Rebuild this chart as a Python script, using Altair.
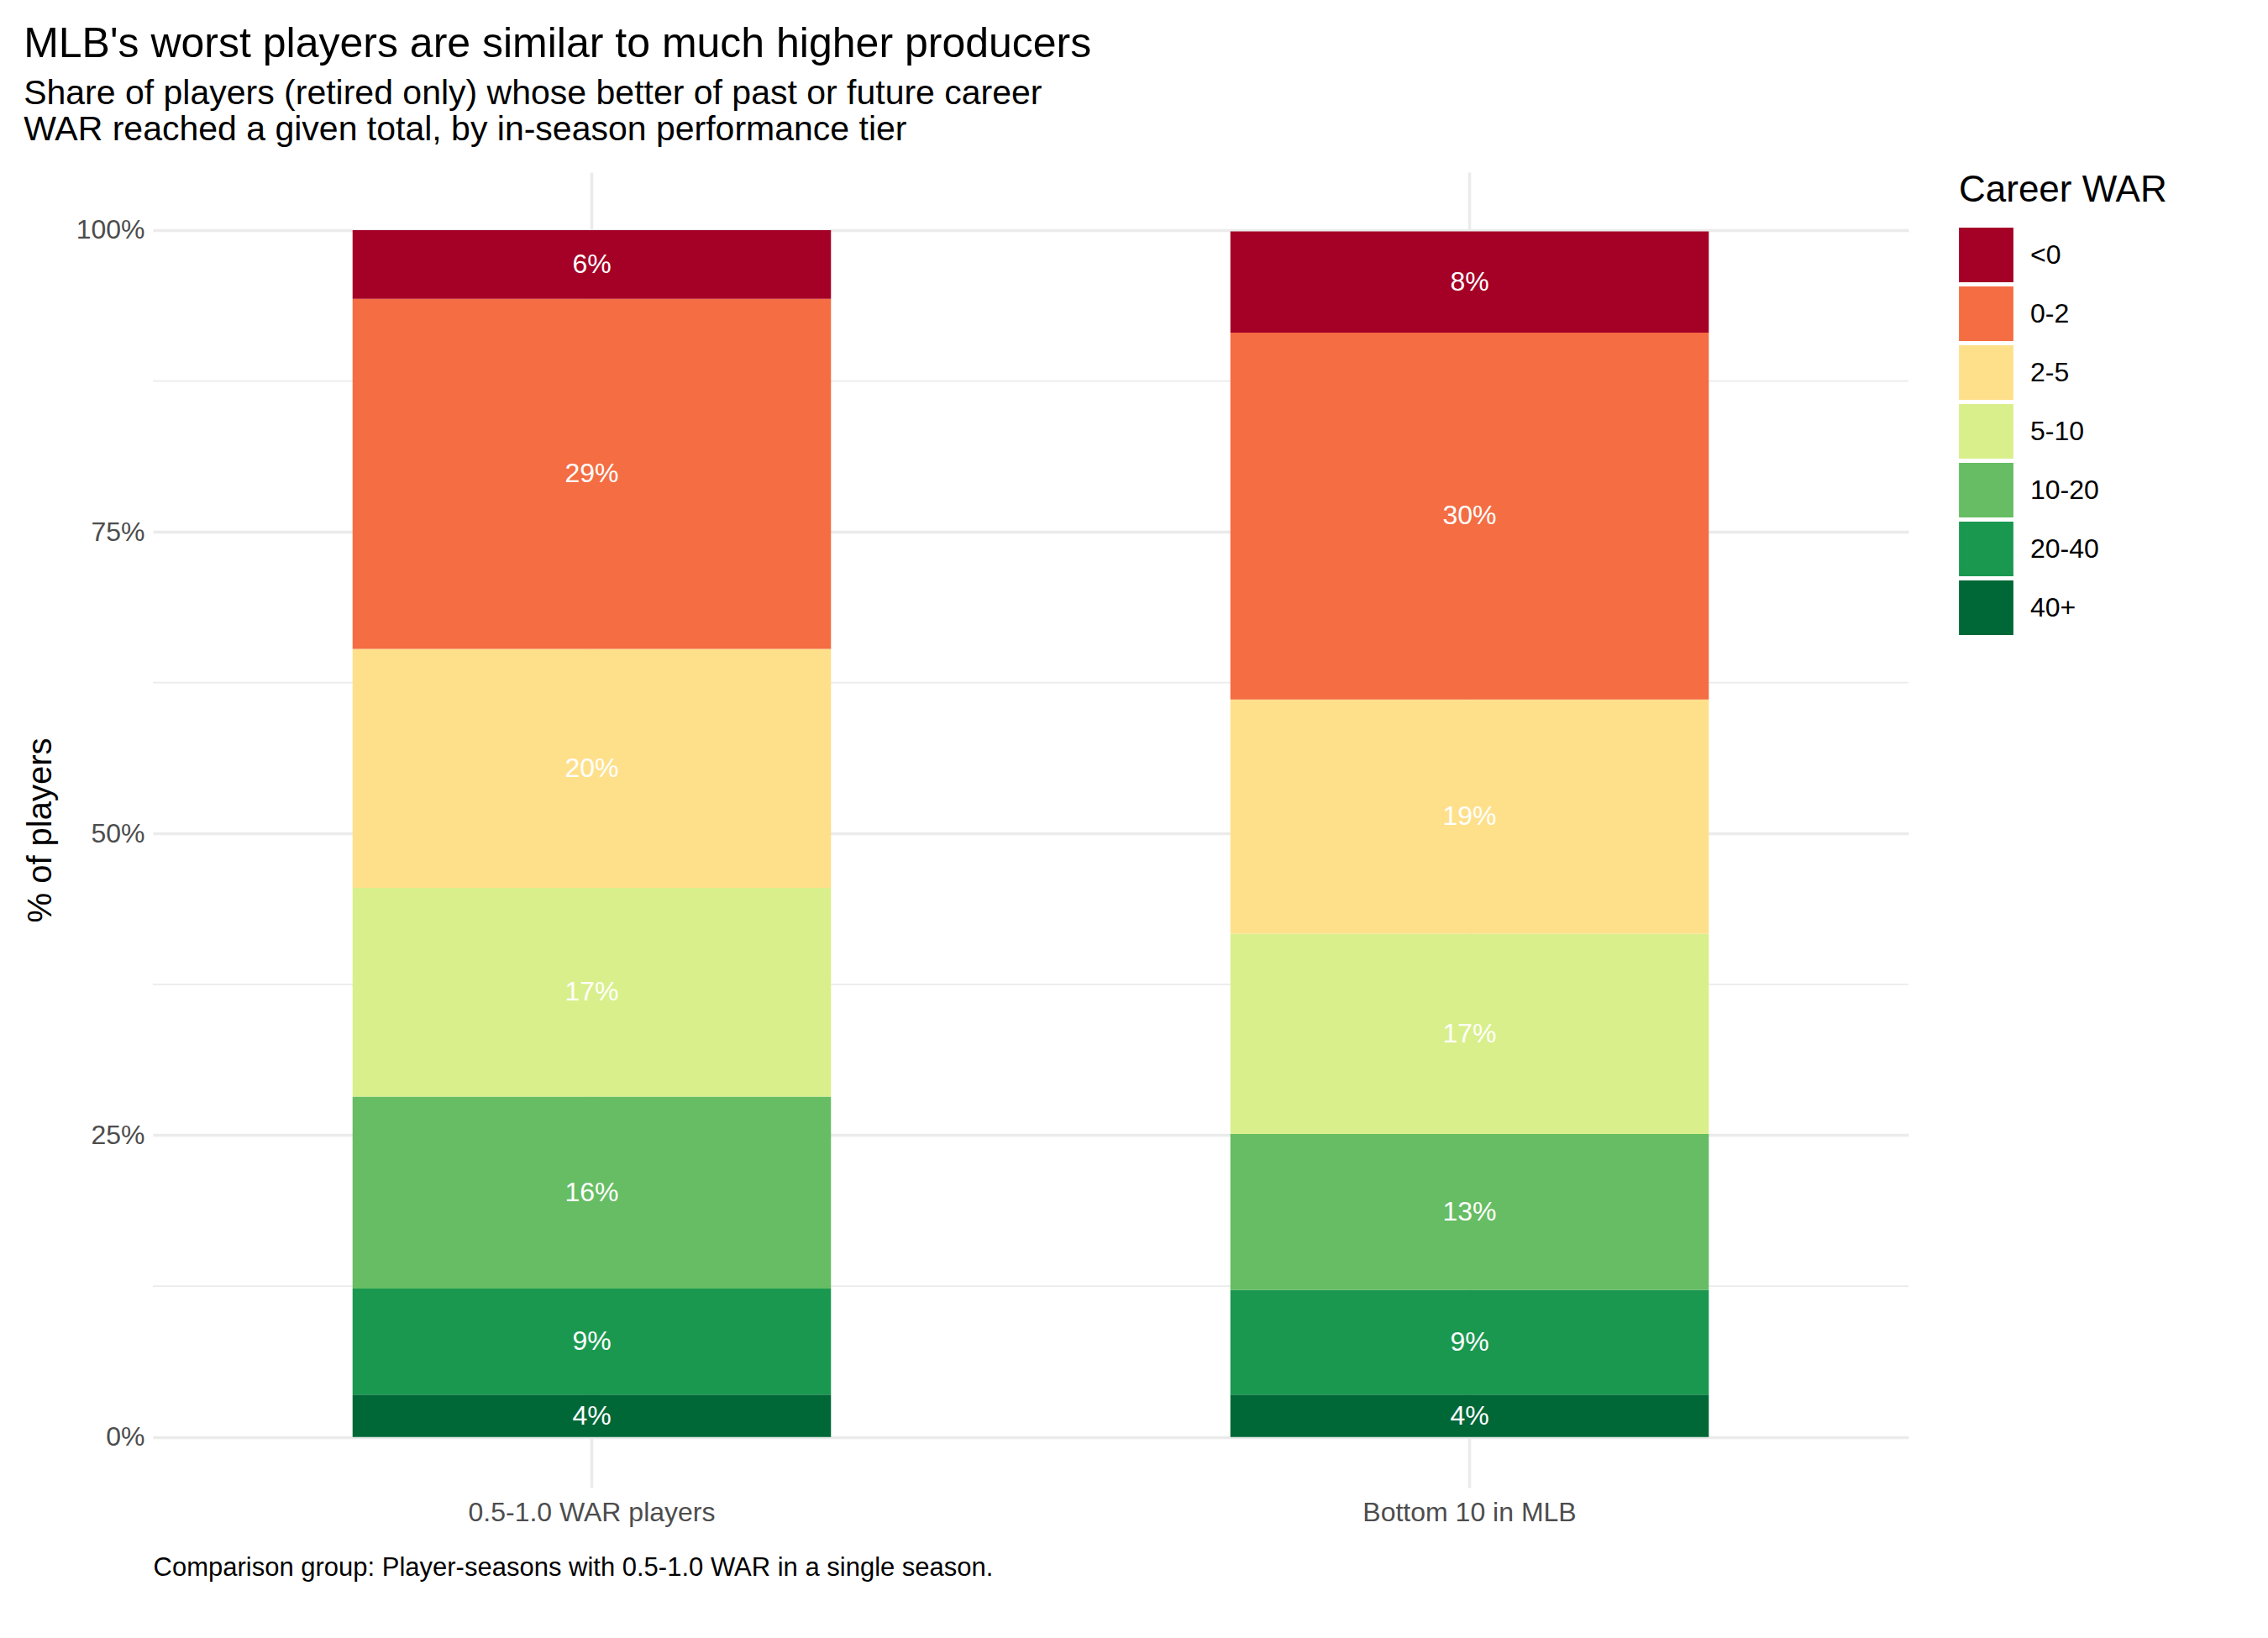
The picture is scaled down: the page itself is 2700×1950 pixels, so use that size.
import altair as alt
import pandas as pd

groups = ["0.5-1.0 WAR players", "Bottom 10 in MLB"]
tiers = ["<0", "0-2", "2-5", "5-10", "10-20", "20-40", "40+"]
colors = ["#a50026", "#f46d43", "#fee08b", "#d9ef8b", "#66bd63", "#1a9850", "#006837"]
vals_a = [5.7, 29.0, 19.8, 17.3, 15.9, 8.8, 3.5]
vals_b = [8.4, 30.4, 19.4, 16.6, 12.9, 8.7, 3.5]

rows = []
for g, vals in zip(groups, [vals_a, vals_b]):
    base = 0.0
    for t, v in reversed(list(zip(tiers, vals))):
        rows.append({"group": g, "tier": t, "val": v, "y0": base, "y1": base + v,
                     "mid": base + v / 2, "label": f"{round(v)}%"})
        base += v
df = pd.DataFrame(rows)
minor = pd.DataFrame({"m": [12.5, 37.5, 62.5, 87.5]})

yscale = alt.Scale(domain=[-4.2, 104.8], nice=False, zero=False)
xenc = alt.X("group:N", sort=groups, scale=alt.Scale(paddingInner=0, paddingOuter=0),
             axis=alt.Axis(title="Comparison group: Player-seasons with 0.5-1.0 WAR in a single season.",
                           titleAnchor="start", titleAlign="left", titleX=0, titleY=80,
                           titleFontWeight="normal", titleFontSize=31, titleColor="#000",
                           labelFontSize=32, labelColor="#4d4d4d", labelAngle=0, labelPadding=14,
                           labelLimit=1000,
                           grid=True, bandPosition=0.5, gridColor="#ebebeb", gridWidth=3.5,
                           domain=False, ticks=False))

grid = alt.Chart(minor).mark_rule(color="#ebebeb", strokeWidth=1.8).encode(
    y=alt.Y("m:Q", scale=yscale))

bars = alt.Chart(df).mark_bar(width=alt.RelativeBandSize(0.545)).encode(
    x=xenc,
    y=alt.Y("y1:Q", scale=yscale,
            axis=alt.Axis(values=[0, 25, 50, 75, 100], labelExpr="datum.value + '%'",
                          title="% of players", titleFontSize=40, titleFontWeight="normal",
                          titleColor="#000", labelFontSize=32, labelColor="#4d4d4d",
                          gridColor="#ebebeb", gridWidth=3.5, domain=False, ticks=False,
                          labelPadding=10, titlePadding=22)),
    y2="y0:Q",
    color=alt.Color("tier:N", sort=tiers, scale=alt.Scale(domain=tiers, range=colors),
                    legend=alt.Legend(title="Career WAR", titleFontSize=44, titleFontWeight="normal",
                                      titleColor="#000", titleLimit=1000,
                                      labelFontSize=32, labelColor="#000",
                                      symbolType="square", symbolSize=4200, symbolStrokeWidth=0,
                                      rowPadding=5, labelOffset=20, titlePadding=22, offset=60,
                                      orient="right")),
)

text = alt.Chart(df).mark_text(color="white", fontSize=32).encode(
    x=alt.X("group:N", sort=groups), y=alt.Y("mid:Q", scale=yscale), text="label:N")

chart = alt.layer(grid, bars, text).properties(
    width=2090, height=1566, padding={"left": 20, "top": 20, "right": 10, "bottom": 10},
    title=alt.TitleParams(
        "MLB's worst players are similar to much higher producers",
        subtitle=["Share of players (retired only) whose better of past or future career",
                  "WAR reached a given total, by in-season performance tier"],
        anchor="start", fontSize=50, fontWeight="normal", color="#000",
        subtitleFontSize=41, subtitleColor="#000", subtitlePadding=14, offset=30)
).configure(font="Liberation Sans").configure_view(stroke=None)

chart.save("out.html", embed_options={"renderer": "svg", "actions": False})
